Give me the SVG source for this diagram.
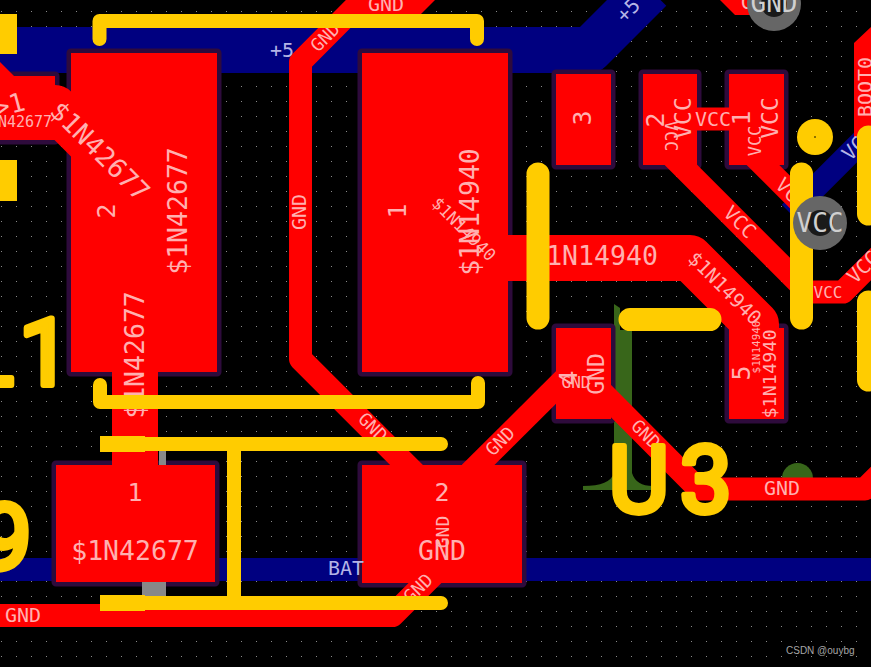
<svg xmlns="http://www.w3.org/2000/svg" width="871" height="667" viewBox="0 0 871 667">
<style>
.pad{fill:#f00;stroke:#2e0b3c;stroke-width:9;stroke-linejoin:round;paint-order:stroke}
.blue{fill:none;stroke:#000080;stroke-linejoin:round}
.red{fill:none;stroke:#f00;stroke-linejoin:round}
.w23{stroke-width:23}.w46{stroke-width:46}
.silk{fill:none;stroke:#fc0;stroke-linecap:round;stroke-linejoin:round}
.s14{stroke-width:14}.s23{stroke-width:23}
text{font-family:"DejaVu Sans Mono","Liberation Mono",monospace;text-anchor:middle}
.t{fill:#ffb0b0}.b{fill:#b4b4e6}.v{fill:#d0d0d0}
.big{font-family:Roboto,"Open Sans",sans-serif;font-weight:400;font-size:92px;fill:#fc0;stroke:#fc0;stroke-width:6;stroke-linejoin:round;text-anchor:start}
.wm{font-family:"Liberation Sans",Arial,sans-serif;font-size:10px;fill:#a6a6a6;text-anchor:start}
</style>
<defs>
<pattern id="grid" width="15" height="15" patternUnits="userSpaceOnUse"><rect x="1" y="11" width="1" height="1" fill="#8a8a8a"/></pattern>
</defs>
<rect width="871" height="667" fill="#000"/>
<rect width="871" height="667" fill="url(#grid)"/>
<g id="copper-fill">
<path d="M614,304L620,308V330H632V473Q636,486 653,486V490H583V486Q610,486 614,473Z" fill="#38661a"/>
<circle cx="797.5" cy="478.5" r="15.5" fill="#38661a"/>
</g>
<g id="connectors-back">
<path class="blue w46" d="M-10,50H589.500L650,-10.500"/>
<path class="blue w23" d="M-10,569.500H881"/>
<path class="blue w23" d="M790,213L880,123"/>
</g>
<g id="pad-j1"><rect class="pad" x="-20" y="76" width="75" height="64"/></g>
<g id="pad-l1-2"><rect class="pad" x="71" y="53" width="146" height="319"/></g>
<g id="pad-l1-1"><rect class="pad" x="362" y="53" width="146" height="319"/></g>
<g id="pad-d-1"><rect class="pad" x="56" y="465" width="159" height="117"/></g>
<g id="pad-d-2"><rect class="pad" x="362" y="465" width="160" height="118"/></g>
<g id="pad-u3-3"><rect class="pad" x="556" y="74" width="55" height="91"/></g>
<g id="pad-u3-2"><rect class="pad" x="643" y="74" width="54" height="91"/></g>
<g id="pad-u3-1"><rect class="pad" x="729" y="74" width="55" height="91"/></g>
<g id="pad-u3-4"><rect class="pad" x="556" y="328" width="55" height="91"/></g>
<g id="pad-u3-5"><rect class="pad" x="729" y="328" width="55" height="91"/></g>
<g id="connectors">
<path class="red w46" d="M-20,74.500L20,114.500"/>
<path class="red w46" d="M30,108H55L90,143"/>
<path class="red w46" d="M135,360V470"/>
<path class="red w23" d="M375,-13L300.500,62V359L420,478.500"/>
<path d="M347,0H435L407,28H319Z" fill="#f00"/>
<path class="red w23" d="M470,473L565,378.500"/>
<path class="red w23" d="M-10,615.500H392.500L450,558"/>
<path class="red w23" d="M580,370L698.500,489H865L880,474"/>
<path class="red w46" d="M500,258H690L756,324V360"/>
<path class="red w23" d="M670,154L802,286"/>
<path class="red w23" d="M802,292H843L880,255"/>
<path class="red w23" d="M750,152L810,212"/>
<path class="red w23" d="M690,119H735"/>
<path d="M720,0L735,15H770V-5H715Z" fill="#f00"/>
<path d="M871,27L854,43V137H871Z" fill="#f00"/>
<rect x="159" y="451" width="7" height="14" fill="#888"/>
<rect x="142" y="582" width="24" height="14" fill="#888"/>
</g>
<g id="labels" class="t">
<text transform="translate(17,103) rotate(-15)" y="9" font-size="26" x="-8">&gt;1</text>
<text x="25" y="127" font-size="15">N42677</text>
<text transform="translate(100,151) rotate(45)" y="9.400" font-size="26.500">$1N42677</text>
<text transform="translate(106,211) rotate(-90)" y="9" font-size="25">2</text>
<text transform="translate(178,211) rotate(-90)" y="9.400" font-size="26.500">$1N42677</text>
<text transform="translate(135,355) rotate(-90)" y="9.400" font-size="26.500">$1N42677</text>
<text x="135" y="501" font-size="25">1</text>
<text x="135" y="560" font-size="26.500">$1N42677</text>
<text x="23" y="622" font-size="20">GND</text>
<text x="386" y="11" font-size="20">GND</text>
<text transform="translate(325,37) rotate(-45)" y="6.500" font-size="18">GND</text>
<text transform="translate(299,212) rotate(-90)" y="7.200" font-size="20">GND</text>
<text transform="translate(373,427) rotate(45)" y="6.500" font-size="18">GND</text>
<text transform="translate(500,441) rotate(-45)" y="6.500" font-size="18">GND</text>
<text transform="translate(418,588) rotate(-45)" y="6.500" font-size="18">GND</text>
<text transform="translate(442,532) rotate(-90)" y="6.500" font-size="18">GND</text>
<text x="442" y="560" font-size="26.500">GND</text>
<text x="442" y="501" font-size="25">2</text>
<text transform="translate(397,211) rotate(-90)" y="9" font-size="25">1</text>
<text transform="translate(470,212) rotate(-90)" y="9.400" font-size="26.500">$1N14940</text>
<text transform="translate(464,229) rotate(45)" y="6" font-size="17">$1N14940</text>
<text x="602" y="265" font-size="26.500">1N14940</text>
<text transform="translate(725,288) rotate(45)" y="7" font-size="19.500">$1N14940</text>
<text transform="translate(756,347) rotate(-90)" y="4" font-size="11">$1N14940</text>
<text transform="translate(769,374) rotate(-90)" y="6.700" font-size="18.500">$1N14940</text>
<text transform="translate(741,373) rotate(-90)" y="9" font-size="25">5</text>
<text transform="translate(568,378) rotate(-90)" y="9" font-size="25">4</text>
<text x="576" y="388" font-size="16">GND</text>
<text transform="translate(596,374) rotate(-90)" y="8.300" font-size="23">GND</text>
<text transform="translate(646,434) rotate(45)" y="6.500" font-size="18">GND</text>
<text x="782" y="495" font-size="20">GND</text>
<text transform="translate(582,118) rotate(-90)" y="9" font-size="25">3</text>
<text transform="translate(655,120) rotate(-90)" y="9" font-size="25">2</text>
<text transform="translate(671,136) rotate(90)" y="6" font-size="17">VCC</text>
<text transform="translate(683,118) rotate(-90)" y="8.300" font-size="23">VCC</text>
<text x="713" y="126" font-size="20">VCC</text>
<text transform="translate(741,118) rotate(-90)" y="9" font-size="25">1</text>
<text transform="translate(755,141) rotate(-90)" y="6" font-size="17">VCC</text>
<text transform="translate(770,118) rotate(-90)" y="8.300" font-size="23">VCC</text>
<text transform="translate(740,222) rotate(45)" y="7.200" font-size="20">VCC</text>
<text transform="translate(792,194) rotate(45)" y="7.200" font-size="20">VCC</text>
<text x="828" y="298" font-size="16">VCC</text>
<text transform="translate(863,267) rotate(-45)" y="7.200" font-size="20">VCC</text>
<text transform="translate(865,87) rotate(-90)" y="7.200" font-size="20">BOOT0</text>
<text x="741" y="9" font-size="20" style="text-anchor:start">GND</text>
<g class="b">
<text x="282" y="57" font-size="20">+5</text>
<text transform="translate(628,10) rotate(-45)" y="7.200" font-size="20">+5</text>
<text x="346" y="575" font-size="20">BAT</text>
<text transform="translate(858,144) rotate(-45)" y="7.200" font-size="20">VCC</text>
<text transform="translate(811,208) rotate(-135)" y="7.200" font-size="20">VCC</text>
</g>
</g>
<g id="silkscreen">
<path class="silk s14" d="M99.500,39V21H477V39"/>
<path class="silk s14" d="M100,385V402H478V383"/>
<path class="silk s14" d="M110,444H441M110,603H441M234,444V603"/>
<rect x="100" y="436" width="45" height="16" fill="#fc0"/>
<rect x="100" y="595" width="45" height="16" fill="#fc0"/>
<rect x="0" y="14" width="17" height="40" fill="#fc0"/>
<rect x="0" y="160" width="17" height="41" fill="#fc0"/>
<path class="silk s23" d="M538,174V318M801.500,174V318M630,319.500H710M868.500,137V214M868.500,302V380"/>
<text class="big" x="-36 19" y="385">L1</text>
<text class="big" x="-20" y="570">9</text>
<text class="big" x="609 680" y="512">U3</text>
</g>
<g id="hole-tp"><circle cx="815" cy="137" r="18" fill="#fc0"/><circle cx="815" cy="137" r="0.800" fill="#000"/></g>
<g id="via-gnd"><circle cx="774" cy="4" r="27" fill="#666"/><circle cx="774" cy="4" r="13" fill="#1a1a1a"/><text class="v" x="774" y="12" font-size="26">GND</text></g>
<g id="via-vcc"><circle cx="820" cy="223" r="27" fill="#666"/><circle cx="820" cy="223" r="13" fill="#1a1a1a"/><text class="v" x="820" y="232" font-size="26">VCC</text></g>
<text class="wm" x="786" y="654">CSDN @ouybg</text>
</svg>
